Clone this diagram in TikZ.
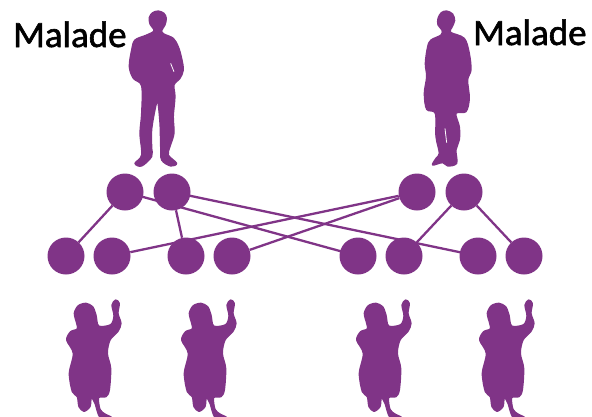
\documentclass[tikz,border=0pt]{standalone}
\usepackage{fontspec}
\newfontfamily\labelfont{Carlito}[FakeBold=1.6]
\usetikzlibrary{backgrounds}
\definecolor{plum}{HTML}{803487}
\tikzset{
  member/.style={circle,fill=plum,inner sep=0pt,minimum size=37pt},
  tie/.style={draw=plum,line width=2.3pt},
  label text/.style={font=\labelfont\fontsize{37}{37}\selectfont,text=black,inner sep=0pt,anchor=base west},
  figure shape/.style={fill=plum,draw=plum,line width=1.3pt,line join=round}
}
\begin{document}
\begin{tikzpicture}[x=1pt,y=-1pt]
\useasboundingbox (0,0) rectangle (592,416);
\node[member] (t1) at (125,192) {};
\node[member] (t2) at (172,192) {};
\node[member] (t3) at (417,192) {};
\node[member] (t4) at (464,192) {};
\node[member] (b1) at (66,256) {};
\node[member] (b2) at (112,256) {};
\node[member] (b3) at (186,256) {};
\node[member] (b4) at (232,256) {};
\node[member] (b5) at (358,256) {};
\node[member] (b6) at (404,256) {};
\node[member] (b7) at (478,256) {};
\node[member] (b8) at (524,256) {};
\begin{scope}[on background layer]
\draw[tie] (t1) -- (b1);
\draw[tie] (t1.center) -- (b5.center);
\draw[tie] (t2) -- (b3);
\draw[tie] (t2.center) -- (b7.center);
\draw[tie] (t3) -- (b2);
\draw[tie] (t3) -- (b4);
\draw[tie] (t4) -- (b6);
\draw[tie] (t4) -- (b8);
\end{scope}
\node[label text] (m1) at (13,47) {Malade};
\node[label text] (m2) at (473,45) {Malade};
% man
\begin{scope}[x=.3333pt,y=-.3333pt]
\fill[figure shape] plot[smooth cycle,tension=.55] coordinates {(462,92)(450,72)(448,52)(458,38)(475,33)(492,40)(499,55)(495,75)(485,92)(492,102)(520,115)(535,140)(545,175)(550,210)(540,235)(522,255)(525,290)(520,350)(522,400)(510,440)(505,465)(530,490)(512,498)(485,480)(482,440)(480,370)(473,305)(465,330)(455,390)(455,440)(455,470)(425,498)(405,490)(425,465)(420,400)(425,340)(425,258)(400,235)(388,200)(395,150)(405,120)(440,105)};
\draw[white,line width=.8pt] (512,190) -- (522,215);
\end{scope}
% woman
\begin{scope}[shift={(296,0)},x=.3333pt,y=-.3333pt]
\fill[figure shape] plot[smooth cycle,tension=.55] coordinates {(438,90)(426,75)(426,55)(436,38)(452,33)(470,42)(476,62)(468,82)(464,97)(505,115)(520,160)(525,210)(515,240)(520,295)(510,335)(480,340)(490,380)(490,420)(480,450)(482,490)(455,498)(440,488)(410,495)(420,475)(430,460)(420,410)(418,340)(392,328)(385,280)(392,230)(388,190)(395,140)(405,120)(435,105)};
\draw[white,line width=.8pt] (447,385) -- (452,428);
\end{scope}
% children
\foreach \cx in {0,115,290,413}{
\begin{scope}[shift={(50+\cx,290)},x=.3333pt,y=-.3333pt]
\fill[figure shape] plot[smooth cycle,tension=.5] coordinates {(80,100)(73,70)(85,47)(108,40)(128,50)(138,75)(146,108)(182,104)(192,78)(186,45)(197,30)(208,40)(204,70)(213,100)(204,124)(180,150)(172,190)(182,235)(178,300)(168,320)(146,323)(150,358)(165,372)(184,382)(150,382)(135,340)(124,323)(120,350)(102,364)(87,350)(82,320)(67,305)(58,250)(70,190)(50,150)(62,125)(82,117)};
\end{scope}}
\end{tikzpicture}
\end{document}
